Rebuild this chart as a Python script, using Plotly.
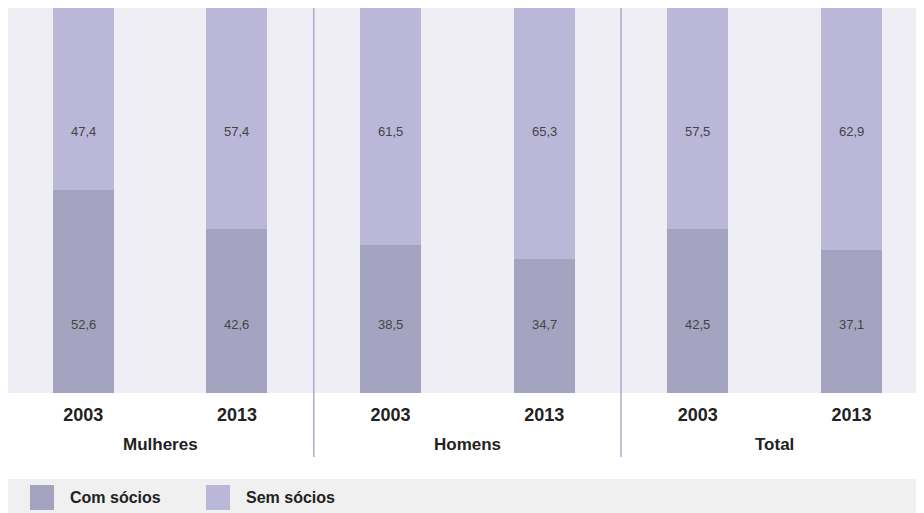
import plotly.graph_objects as go

# ---- data ----
groups = ["Mulheres", "Homens", "Total"]
years = ["2003", "2013", "2003", "2013", "2003", "2013"]
com_socios = [52.6, 42.6, 38.5, 34.7, 42.5, 37.1]
sem_socios = [47.4, 57.4, 61.5, 65.3, 57.5, 62.9]
series_names = ["Com sócios", "Sem sócios"]

# ---- style ----
W, H = 924, 513
OFF = 8  # page body offset
ML, MR, MT, MB = 0, 0, 0, 128
PW, PH = W - ML - MR, H - MT - MB
COL_COM = "#a4a4c0"
COL_SEM = "#bab7d9"
PLOT_BG = "#efeef5"
BAND_BG = "#eff0ef"
SEP_COL = "#aeabca"
TXT = "#222222"
BOLD = "Liberation Sans, Arial, sans-serif"
NARROW = "Liberation Sans, Arial, sans-serif"

def py(pix):  # screenshot pixel y -> paper y
    return (H - MB - (pix - OFF)) / PH

def px(pix):  # screenshot pixel x -> paper x
    return (pix - OFF - ML) / PW

xs = list(range(len(years)))
fmt = lambda v: f"{v:.1f}".replace(".", ",")

fig = go.Figure()
fig.add_trace(go.Bar(x=xs, y=com_socios, name=series_names[0], marker_color=COL_COM,
                     marker_line_width=0, width=0.397, showlegend=False, hoverinfo="y"))
fig.add_trace(go.Bar(x=xs, y=sem_socios, name=series_names[1], marker_color=COL_SEM,
                     marker_line_width=0, width=0.397, showlegend=False, hoverinfo="y"))

annotations = []
# value labels at fixed heights inside bars
for x, c, s in zip(xs, com_socios, sem_socios):
    annotations.append(dict(x=x, y=17.8, xref="x", yref="y", text=fmt(c), showarrow=False,
                            yanchor="middle",
                            font=dict(family=NARROW, size=13, color="#444444")))
    annotations.append(dict(x=x, y=67.9, xref="x", yref="y", text=fmt(s), showarrow=False,
                            yanchor="middle",
                            font=dict(family=NARROW, size=13, color="#444444")))
# group labels
for i, g in enumerate(groups):
    annotations.append(dict(x=2 * i + 0.5, y=py(444), xref="x", yref="paper", text=f"<b>{g}</b>",
                            xanchor="center", yanchor="middle", showarrow=False,
                            font=dict(family=BOLD, size=17, color=TXT)))

shapes = []
# separators between groups
for i in range(1, len(groups)):
    shapes.append(dict(type="line", x0=2 * i - 0.5, x1=2 * i - 0.5, xref="x", yref="paper",
                       y0=py(457), y1=1, line=dict(color=SEP_COL, width=1.5)))
# legend band
shapes.append(dict(type="rect", xref="paper", yref="paper", x0=0, x1=1, y0=py(521), y1=py(479),
                   fillcolor=BAND_BG, line=dict(width=0), layer="below"))
legend_items = [(series_names[0], COL_COM, 30, 68), (series_names[1], COL_SEM, 206, 244)]
for name, col, sx, tx in legend_items:
    shapes.append(dict(type="rect", xref="paper", yref="paper", x0=px(sx), x1=px(sx + 24),
                       y0=py(510), y1=py(485), fillcolor=col, line=dict(width=0)))
    annotations.append(dict(x=px(tx), y=py(497.5), xref="paper", yref="paper", text=f"<b>{name}</b>",
                            xanchor="left", yanchor="middle", showarrow=False,
                            font=dict(family=BOLD, size=16, color=TXT)))

fig.update_layout(
    width=W, height=H, barmode="stack",
    margin=dict(l=ML, r=MR, t=MT, b=MB),
    paper_bgcolor="white", plot_bgcolor=PLOT_BG,
    xaxis=dict(range=[-0.49, 5.524], tickvals=xs, ticktext=[f"<b>{y}</b>" for y in years],
               showgrid=False, zeroline=False, showline=False,
               ticks="outside", ticklen=5, tickcolor="rgba(0,0,0,0)",
               tickfont=dict(family=BOLD, size=18, color=TXT)),
    yaxis=dict(range=[0, 100], showgrid=False, zeroline=False, showticklabels=False, showline=False),
    annotations=annotations, shapes=shapes,
)

fig.write_html("out.html")
